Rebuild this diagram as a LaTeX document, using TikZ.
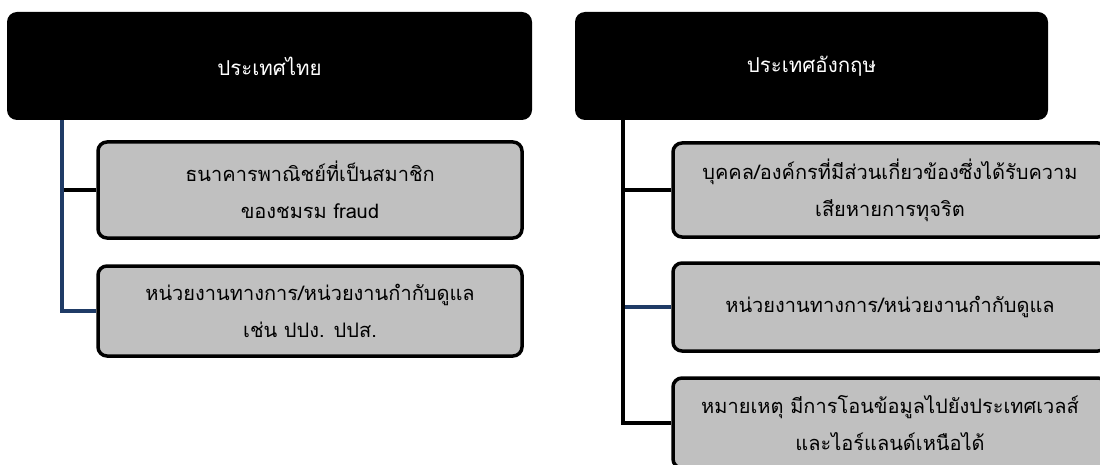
\documentclass[tikz,border=0pt]{standalone}
\usepackage{fontspec}
\newfontfamily\thaifont[Script=Thai]{Loma}
\definecolor{navy}{HTML}{1F3B66}
\definecolor{boxgray}{HTML}{C0C0C0}
\tikzset{
  hdr/.style={fill=black, rounded corners=10pt, text=white, font=\thaifont\fontsize{20.5}{24}\selectfont, inner sep=0pt},
  itembox/.style={draw=black, fill=boxgray, line width=3.5pt, rounded corners=9pt, align=center, inner sep=0pt, font=\thaifont\fontsize{20}{37}\selectfont},
  blkline/.style={draw=black, line width=3.5pt},
  navyline/.style={draw=navy, line width=3.5pt}
}
\begin{document}
\begin{tikzpicture}[x=1pt,y=-1pt]
\useasboundingbox (0,0) rectangle (1100,465);
\clip (0,0) rectangle (1100,465);
% headers
\node[hdr, minimum width=525pt, minimum height=108pt] (th) at (269.5,66) {ประเทศไทย};
\node[hdr, minimum width=473pt, minimum height=108pt] (en) at (811.5,66) {ประเทศอังกฤษ};
% left boxes
\node[itembox, minimum width=424pt, minimum height=96pt] (b1) at (310,190) {ธนาคารพาณิชย์ที่เป็นสมาชิก\\ของชมรม fraud};
\node[itembox, minimum width=424pt, minimum height=90pt] (b2) at (310,311) {หน่วยงานทางการ/หน่วยงานกำกับดูแล\\เช่น ปปง. ปปส.};
% right boxes
\node[itembox, minimum width=434pt, minimum height=94pt] (c1) at (890,190) {บุคคล/องค์กรที่มีส่วนเกี่ยวข้องซึ่งได้รับความ\\เสียหายการทุจริต};
\node[itembox, minimum width=434pt, minimum height=88pt] (c2) at (890,307) {หน่วยงานทางการ/หน่วยงานกำกับดูแล};
\node[itembox, minimum width=434pt, minimum height=90pt] (c3) at (890,423) {หมายเหตุ มีการโอนข้อมูลไปยังประเทศเวลส์\\และไอร์แลนด์เหนือได้};
% left connectors
\coordinate (lt) at ([xshift=55pt]th.south west);
\draw[blkline] (b1.west) -- (b1.west -| lt);
\draw[navyline] (lt) |- (b2.west);
% right connectors
\coordinate (rt) at ([xshift=48pt]en.south west);
\draw[navyline] (c2.west) -- (c2.west -| rt);
\draw[blkline] (c1.west) -- (c1.west -| rt);
\draw[blkline] (rt) |- (c3.west);
\end{tikzpicture}
\end{document}
